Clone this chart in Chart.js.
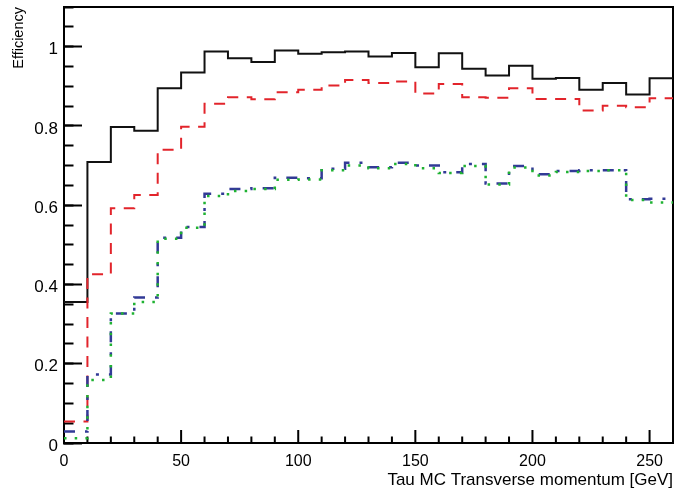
<!DOCTYPE html>
<html><head><meta charset="utf-8">
<script src="https://cdn.jsdelivr.net/npm/chart.js@4/dist/chart.umd.min.js"></script>
<style>html,body{margin:0;padding:0;background:#fff}#wrap{width:696px;height:490px}</style>
</head><body><div id="wrap"><canvas id="c" width="696" height="490"></canvas></div>
<script>
// ---- data ----
const binLow = [0,10,20,30,40,50,60,70,80,90,100,110,120,130,140,150,160,170,180,190,200,210,220,230,240,250];
const binHigh = 260;
const seriesBlack = [0.356,0.709,0.797,0.788,0.895,0.935,0.988,0.971,0.961,0.990,0.982,0.986,0.988,0.975,0.984,0.948,0.983,0.944,0.927,0.952,0.919,0.921,0.891,0.908,0.879,0.920];
const seriesRed   = [0.054,0.426,0.592,0.626,0.740,0.798,0.856,0.872,0.867,0.885,0.891,0.902,0.916,0.908,0.912,0.882,0.906,0.872,0.871,0.895,0.868,0.868,0.839,0.851,0.847,0.870];
const seriesBlue  = [0.029,0.173,0.327,0.367,0.518,0.545,0.629,0.641,0.643,0.669,0.668,0.692,0.707,0.696,0.707,0.700,0.683,0.704,0.655,0.699,0.678,0.686,0.688,0.688,0.615,0.616];
const seriesGreen = [0.012,0.159,0.327,0.356,0.515,0.543,0.623,0.636,0.641,0.664,0.665,0.688,0.700,0.693,0.704,0.693,0.681,0.699,0.652,0.695,0.675,0.684,0.686,0.688,0.613,0.607];
const xTickLabels = [0,50,100,150,200,250];
const yTickLabels = [0,0.2,0.4,0.6,0.8,1];
const yMax = 1.1;
const xTitle = 'Tau MC Transverse momentum [GeV]';
const yTitle = 'Efficiency';

// ---- build ----
function steps(vals){
  const pts = binLow.map((x,i)=>({x:x, y:vals[i]}));
  pts.push({x:binHigh, y:vals[vals.length-1]});
  return pts;
}
Chart.defaults.font.family = 'Liberation Sans, Arial, Helvetica, sans-serif';
Chart.defaults.font.size = 16;
Chart.defaults.color = '#000';
const ds = (data,color,dash,order,w)=>({data:steps(data),borderColor:color,borderWidth:w,borderDash:dash,
  stepped:'before',pointRadius:0,fill:false,order:order,xAxisID:'x',yAxisID:'y',borderCapStyle:'butt'});
const fit = (w,h)=>s=>{
  if(w!==null) s.width=w;
  if(h!==null) s.height=h;
  s.paddingTop=0; s.paddingBottom=0; s.paddingLeft=0; s.paddingRight=0;
};

// inward x-axis tick marks (axis decoration): short at every bin edge, long at labelled values.
// Lengths are given as a fraction of the y range (ROOT-style tick length).
const plotHeightPx = 436;
const tickMajor = 13 / plotHeightPx * yMax, tickMinor = 6.5 / plotHeightPx * yMax;
const tickPts = [];
binLow.forEach(v=>{
  tickPts.push({x:v, y:0}, {x:v, y: xTickLabels.includes(v) ? tickMajor : tickMinor}, {x:v, y:null});
});

new Chart(document.getElementById('c'),{
  type:'line',
  data:{datasets:[
    ds(seriesGreen,'#1fb232',[2.5,8.2],0,2.5),
    ds(seriesBlue,'#323a96',[11,10,3,10],1,2.5),
    ds(seriesRed,'#e2242b',[11,8.5],2,2),
    ds(seriesBlack,'#111111',[],3,2),
    {data:tickPts,borderColor:'#000',borderWidth:2,pointRadius:0,fill:false,spanGaps:false,
     stepped:false,tension:0,order:9,xAxisID:'x',yAxisID:'y',borderCapStyle:'butt',borderDash:[]}
  ]},
  options:{
    responsive:false, animation:false, devicePixelRatio:1,
    plugins:{legend:{display:false},tooltip:{enabled:false}},
    scales:{
      x:{type:'linear',position:'bottom',weight:0,min:0,max:binHigh,
        afterFit:fit(null,0),
        ticks:{display:false,stepSize:10},
        grid:{drawOnChartArea:false,drawTicks:false},
        border:{display:true,width:2,color:'#000'}},
      xMajor:{type:'linear',position:'bottom',weight:1,min:0,max:binHigh,
        afterFit:fit(null,47),
        afterBuildTicks:s=>{s.ticks=xTickLabels.map(v=>({value:v}));},
        ticks:{color:'#000',padding:9,maxRotation:0,autoSkip:false},
        grid:{drawOnChartArea:false,drawTicks:false},
        border:{display:false},
        title:{display:true,text:xTitle,align:'end',color:'#000',font:{size:17},padding:{top:0,bottom:-1}}},
      xTop:{type:'linear',position:'top',min:0,max:binHigh,
        afterFit:fit(null,7),
        ticks:{display:false},
        grid:{drawOnChartArea:false,drawTicks:false},
        border:{display:true,width:2,color:'#000'}},
      y:{type:'linear',position:'left',weight:0,min:0,max:yMax,
        afterFit:fit(0,null),
        ticks:{display:false,stepSize:0.05},
        grid:{drawOnChartArea:false,drawTicks:true,tickLength:-9.5,tickWidth:2,tickColor:'#000'},
        border:{display:true,width:2,color:'#000'}},
      yMajor:{type:'linear',position:'left',weight:1,min:0,max:yMax,
        afterFit:fit(64,null),
        afterBuildTicks:s=>{s.ticks=yTickLabels.map(v=>({value:v}));},
        ticks:{color:'#000',font:{size:17},padding:24,labelOffset:3,autoSkip:false,callback:v=>String(v)},
        grid:{drawOnChartArea:false,drawTicks:true,tickLength:-18,tickWidth:2,tickColor:'#000'},
        border:{display:false},
        title:{display:true,text:yTitle,align:'end',color:'#000',font:{size:14.5},padding:{top:10,bottom:0}}},
      yRight:{type:'linear',position:'right',min:0,max:yMax,
        afterFit:fit(23,null),
        ticks:{display:false},
        grid:{drawOnChartArea:false,drawTicks:false},
        border:{display:true,width:2,color:'#000'}}
    }
  }
});
</script></body></html>
